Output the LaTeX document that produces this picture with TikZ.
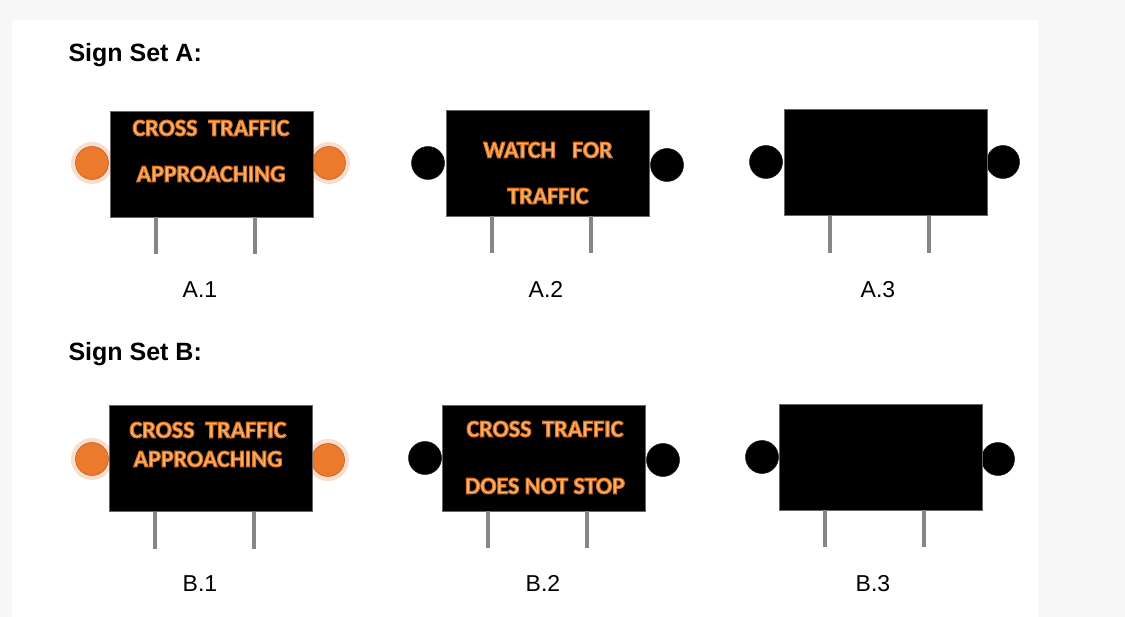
\documentclass[tikz,border=0pt]{standalone}
\usepackage{fontspec}
\setmainfont{Liberation Sans}
\newfontfamily\signfont{Carlito}
\usepackage{tikz}

\definecolor{lampOrange}{HTML}{EC7A2C}
\definecolor{signText}{HTML}{F9B673}
\definecolor{poleGray}{HTML}{868686}

% outlined (glowing) sign lettering: fill then stroke in dark orange
\newcommand{\glow}[1]{\special{pdf:literal direct 2 Tr 1.1 w 0.86 0.44 0.12 RG}#1\special{pdf:literal direct 0 Tr}}

\begin{document}
\begin{tikzpicture}[x=1pt,y=-1pt,
  board/.style={draw=gray!80!black,line width=0.6pt,fill=black,minimum width=203pt,minimum height=106pt,inner sep=0pt},
  lampon/.style={circle,fill=lampOrange,draw=lampOrange!75!black,line width=0.5pt,minimum size=33pt,inner sep=0pt},
  lampoff/.style={circle,fill=black,draw=black!85!orange,line width=0.5pt,minimum size=33pt,inner sep=0pt},
  halo/.style={circle,fill=lampOrange!70!white,opacity=0.35,minimum size=42pt,inner sep=0pt},
  pole/.style={draw=poleGray,line width=4pt},
  signtext/.style={text=signText,font=\signfont\bfseries\fontsize{24}{28}\selectfont,inner sep=0pt},
  settitle/.style={anchor=base west,font=\bfseries\fontsize{25}{30}\selectfont},
  caption/.style={anchor=base,font=\fontsize{23}{26}\selectfont}]
% backdrop
\fill[black!3] (0,0) rectangle (1125,617);
\fill[white] (12,20) rectangle (1038,617);
\useasboundingbox (0,0) rectangle (1125,617);

\node[settitle] (titleA) at (65,62) {Sign Set A:};
\node[settitle] (titleB) at (65,361) {Sign Set B:};

% set A
\node[halo] at (92,163) {};
\node[halo] at (329,163) {};
\node[lampon] (lampA1l) at (92,163) {};
\node[lampon] (lampA1r) at (329,163) {};
\node[board] (boardA1) at (211.5,164) {};
\node[signtext] (txtA1a) at (211,128) {\glow{CROSS~~TRAFFIC}};
\node[signtext] (txtA1b) at (211,174) {\glow{APPROACHING}};
\node[lampoff] (lampA2l) at (428,163) {};
\node[lampoff] (lampA2r) at (667,165) {};
\node[board] (boardA2) at (547.5,163) {};
\node[signtext] (txtA2a) at (548,150) {\glow{WATCH~~~FOR}};
\node[signtext] (txtA2b) at (548,196) {\glow{TRAFFIC}};
\node[lampoff] (lampA3l) at (766,162) {};
\node[lampoff] (lampA3r) at (1003,162) {};
\node[board] (boardA3) at (886,162.5) {};
\foreach \s in {A1,A2,A3}{
  \draw[pole] ([xshift=46pt]board\s.south west) -- ++(0,37);
  \draw[pole] ([xshift=145pt]board\s.south west) -- ++(0,37);
}
\node[caption] (labA1) at (200,298) {A.1};
\node[caption] (labA2) at (546,298) {A.2};
\node[caption] (labA3) at (878,298) {A.3};

% set B
\node[halo] at (92,459) {};
\node[halo] at (328,460) {};
\node[lampon] (lampB1l) at (92,459) {};
\node[lampon] (lampB1r) at (328,460) {};
\node[board] (boardB1) at (211,458.5) {};
\node[signtext] (txtB1a) at (208,430) {\glow{CROSS~~TRAFFIC}};
\node[signtext] (txtB1b) at (208,459) {\glow{APPROACHING}};
\node[lampoff] (lampB2l) at (425,458) {};
\node[lampoff] (lampB2r) at (663,460) {};
\node[board] (boardB2) at (544,458) {};
\node[signtext] (txtB2a) at (545,429) {\glow{CROSS~~TRAFFIC}};
\node[signtext] (txtB2b) at (545,486) {\glow{DOES NOT STOP}};
\node[lampoff] (lampB3l) at (762,457) {};
\node[lampoff] (lampB3r) at (998,459) {};
\node[board] (boardB3) at (880.5,457) {};
\foreach \s in {B1,B2,B3}{
  \draw[pole] ([xshift=46pt]board\s.south west) -- ++(0,37);
  \draw[pole] ([xshift=145pt]board\s.south west) -- ++(0,37);
}
\node[caption] (labB1) at (200,591) {B.1};
\node[caption] (labB2) at (543,591) {B.2};
\node[caption] (labB3) at (873,591) {B.3};
\end{tikzpicture}
\end{document}
